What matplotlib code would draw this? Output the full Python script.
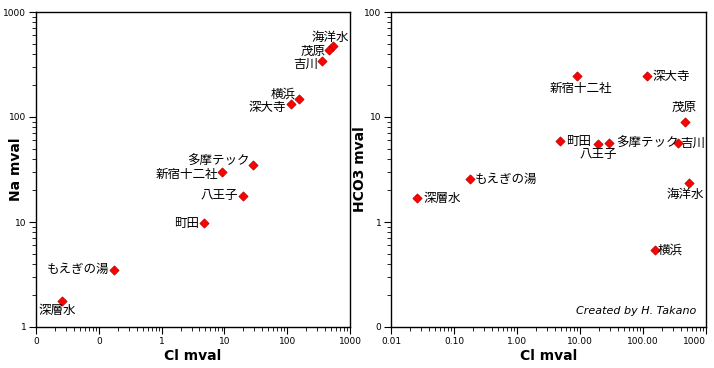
import numpy as np
import matplotlib.pyplot as plt
from matplotlib.ticker import FixedLocator, LogLocator, NullFormatter

plt.rcParams['font.family'] = ['Noto Sans CJK JP', 'DejaVu Sans']

# Data (mval)
sites = ['海洋水', '茂原', '吉川', '横浜', '深大寺', '多摩テック',
         '新宿十二社', '八王子', '町田', 'もえぎの湯', '深層水']
cl = [535, 470, 358, 153, 117, 29, 9.1, 19.5, 4.8, 0.177, 0.026]
na = [474, 435, 341, 147, 132, 35, 29.7, 17.7, 9.8, 3.5, 1.77]
hco3 = [2.37, 8.9, 5.65, 0.545, 24.4, 5.65, 24.4, 5.57, 5.9, 2.55, 1.69]

left_xticklabels = ['0', '0', '1', '10', '100', '1000']
left_yticklabels = ['1', '10', '100', '1000']
right_xticklabels = ['0.01', '0.10', '1.00', '10.00', '100.00', '1000']
right_yticklabels = ['0', '1', '10', '100']

# label placement: (dx, dy in pixels, ha, va)
na_place = {
    '海洋水': (16, 9, 'right', 'center'),
    '茂原': (-4, -2, 'right', 'center'),
    '吉川': (-4, -3, 'right', 'center'),
    '横浜': (-3, 5, 'right', 'center'),
    '深大寺': (-5, -3, 'right', 'center'),
    '多摩テック': (-4, 3, 'right', 'center'),
    '新宿十二社': (-4, -2, 'right', 'center'),
    '八王子': (-5, 0, 'right', 'center'),
    '町田': (-5, -1, 'right', 'center'),
    'もえぎの湯': (-5, 0, 'right', 'center'),
    '深層水': (-5, -10, 'center', 'center'),
}
hco3_place = {
    '海洋水': (-4, -12, 'center', 'center'),
    '茂原': (-1, 15, 'center', 'center'),
    '吉川': (2, 0, 'left', 'center'),
    '横浜': (3, 0, 'left', 'center'),
    '深大寺': (5, 0, 'left', 'center'),
    '多摩テック': (7, 0, 'left', 'center'),
    '新宿十二社': (3, -12, 'center', 'center'),
    '八王子': (0, -11, 'center', 'center'),
    '町田': (6, 0, 'left', 'center'),
    'もえぎの湯': (5, 0, 'left', 'center'),
    '深層水': (6, 0, 'left', 'center'),
}

fig = plt.figure(figsize=(7.14, 3.68), dpi=100)
ax1 = fig.add_axes([36 / 714, 41 / 368, 314 / 714, 315 / 368])
ax2 = fig.add_axes([391 / 714, 41 / 368, 315 / 714, 315 / 368])


def style_axis(ax, xlim, ylim, xlabels, ylabels):
    ax.set_xscale('log')
    ax.set_yscale('log')
    ax.set_xlim(*xlim)
    ax.set_ylim(*ylim)
    xt = 10.0 ** np.arange(np.log10(xlim[0]), np.log10(xlim[1]) + 0.5)
    yt = 10.0 ** np.arange(np.log10(ylim[0]), np.log10(ylim[1]) + 0.5)
    ax.xaxis.set_major_locator(FixedLocator(xt))
    ax.yaxis.set_major_locator(FixedLocator(yt))
    ax.set_xticklabels(xlabels)
    ax.set_yticklabels(ylabels)
    ax.xaxis.set_minor_locator(LogLocator(base=10, subs=np.arange(2, 10)))
    ax.yaxis.set_minor_locator(LogLocator(base=10, subs=np.arange(2, 10)))
    ax.xaxis.set_minor_formatter(NullFormatter())
    ax.yaxis.set_minor_formatter(NullFormatter())
    ax.tick_params(which='major', direction='out', length=5, width=0.8,
                   labelsize=6.5, pad=2, top=False, right=False)
    ax.tick_params(which='minor', direction='out', length=3, width=0.6,
                   top=False, right=False)
    for s in ax.spines.values():
        s.set_linewidth(1.0)
    for lab in ax.get_xticklabels() + ax.get_yticklabels():
        lab.set_family('DejaVu Sans')


def draw(ax, xs, ys, place):
    ax.scatter(xs, ys, marker='D', s=22, color='#ff0000',
               edgecolors='#b00000', linewidths=0.5, zorder=3)
    for name, x, y in zip(sites, xs, ys):
        dx, dy, ha, va = place[name]
        ax.annotate(name, (x, y), xytext=(dx, dy), textcoords='offset pixels',
                    ha=ha, va=va, fontsize=9, color='black')


label_kw = dict(fontsize=10, fontweight='bold', family='DejaVu Sans')

draw(ax1, cl, na, na_place)
style_axis(ax1, (0.01, 1000), (1, 1000), left_xticklabels, left_yticklabels)
ax1.set_xlabel('Cl mval', labelpad=2, **label_kw)
ax1.set_ylabel('Na mval', **label_kw)
ax1.yaxis.set_label_coords(-0.042, 0.5)

draw(ax2, cl, hco3, hco3_place)
style_axis(ax2, (0.01, 1000), (0.1, 100), right_xticklabels, right_yticklabels)
ax2.get_xticklabels()[-1].set_horizontalalignment('right')
ax2.set_xlabel('Cl mval', labelpad=2, **label_kw)
ax2.set_ylabel('HCO3 mval', **label_kw)
ax2.yaxis.set_label_coords(-0.076, 0.5)
ax2.text(0.97, 0.035, 'Created by H. Takano', transform=ax2.transAxes,
         ha='right', va='bottom', fontsize=8, style='italic',
         family='DejaVu Sans')

fig.savefig('out.png', dpi=100)
